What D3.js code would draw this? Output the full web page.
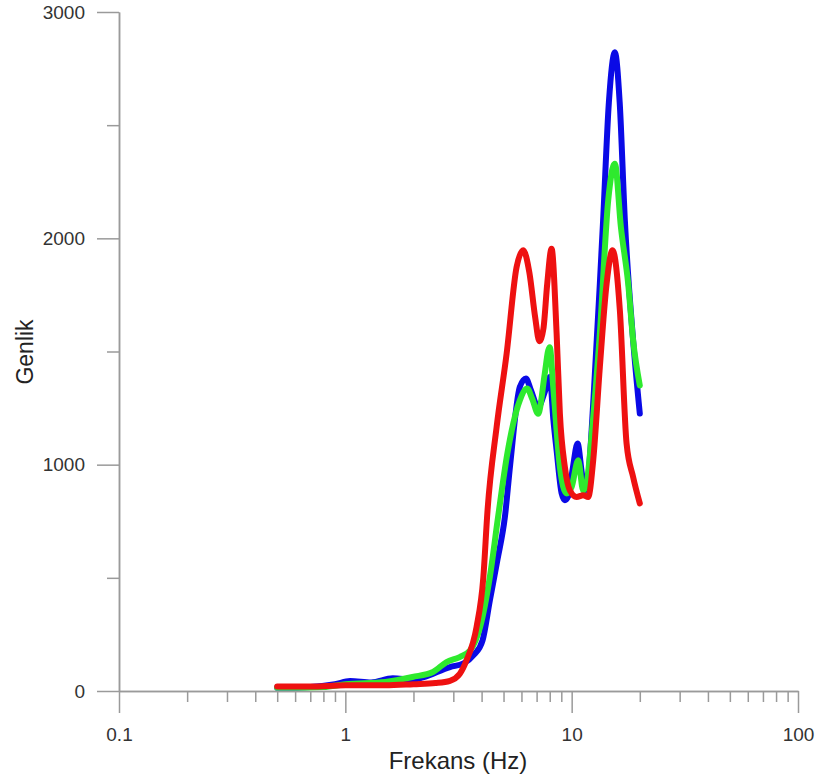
<!DOCTYPE html>
<html>
<head>
<meta charset="utf-8">
<script src="https://cdn.jsdelivr.net/npm/d3@7"></script>
<style>
  html, body { margin: 0; padding: 0; background: #fff; overflow: hidden; }
  svg { display: block; font-family: "Liberation Sans", Arial, sans-serif; }
</style>
</head>
<body>
<svg id="chart" width="815" height="778"></svg>
<script>
// ---- data ----
const xTickValues = [0.1, 1, 10, 100];
const xTickLabels = ["0.1", "1", "10", "100"];
const yTickValues = [0, 1000, 2000, 3000];
const yMinorTicks = [500, 1500, 2500];
const xTitle = "Frekans (Hz)";
const yTitle = "Genlik";

const blueFreq = [0.5, 0.7, 0.9, 1.05, 1.3, 1.62, 2.0, 2.2, 2.9, 3.33, 3.7, 4.04, 4.35, 4.7, 5.07, 5.35, 5.9, 6.28, 6.6, 7.11, 7.6, 8.01, 8.3, 8.58, 9.03, 9.33, 9.65, 10.1, 10.62, 11.1, 11.44, 11.83, 12.5, 13.32, 13.77, 14.6, 15.52, 16.3, 17.18, 18.69, 20];
const blueVal  = [15, 18, 30, 44, 38, 56, 50, 60, 106, 122, 160, 224, 400, 580, 769, 1000, 1343, 1381, 1330, 1254, 1320, 1387, 1200, 1063, 873, 843, 860, 980, 1093, 960, 886, 945, 1300, 1800, 2079, 2600, 2822, 2600, 2079, 1549, 1226];

const greenFreq = [0.5, 0.8, 1.0, 1.5, 1.98, 2.44, 2.8, 3.2, 3.56, 3.94, 4.35, 4.73, 5.2, 5.9, 6.36, 6.7, 7.11, 7.6, 7.88, 8.0, 8.29, 8.87, 9.49, 9.99, 10.69, 11.24, 11.64, 12.3, 13.32, 14.5, 15.52, 16.5, 17.77, 18.69, 20];
const greenVal  = [15, 18, 30, 40, 62, 84, 128, 150, 180, 283, 504, 769, 1050, 1284, 1336, 1290, 1225, 1400, 1505, 1519, 1343, 989, 873, 901, 1019, 886, 917, 1150, 1580, 2167, 2330, 2050, 1800, 1549, 1350];

const redFreq = [0.5, 0.7, 1.0, 1.5, 2.0, 2.5, 2.9, 3.2, 3.43, 3.8, 4.07, 4.25, 4.66, 5.16, 5.71, 6.11, 6.5, 6.9, 7.2, 7.5, 7.8, 8.15, 8.58, 8.87, 9.33, 9.82, 10.51, 11.24, 11.83, 12.45, 13.32, 14.27, 15.16, 16.33, 17.48, 18.69, 20];
const redVal  = [20, 20, 25, 25, 30, 35, 45, 75, 135, 283, 500, 800, 1166, 1491, 1873, 1947, 1850, 1650, 1545, 1600, 1800, 1954, 1580, 1226, 990, 886, 857, 865, 857, 1019, 1431, 1800, 1947, 1681, 1094, 945, 829];

const series = [
  { name: "blue",  freq: blueFreq,  val: blueVal,  color: "#0a0ae6" },
  { name: "green", freq: greenFreq, val: greenVal, color: "#2eea2e" },
  { name: "red",   freq: redFreq,   val: redVal,   color: "#ee1111" }
];

// ---- chart ----
const svg = d3.select("#chart");
const x = d3.scaleLog().domain([0.1, 100]).range([119, 798]);
const y = d3.scaleLinear().domain([0, 3000]).range([691, 12]);
const axisColor = "#9a9a9a";
const labelColor = "#333";

// x minor ticks
const xMinor = [];
for (let d = 0.1; d < 100; d *= 10) {
  for (let k = 2; k <= 9; k++) xMinor.push(+(d * k).toPrecision(3));
}

const gxMinor = svg.append("g").attr("transform", "translate(0,691)")
  .call(d3.axisBottom(x).tickValues(xMinor).tickSize(11).tickSizeOuter(0).tickFormat(""));
const gx = svg.append("g").attr("transform", "translate(0,691)")
  .call(d3.axisBottom(x).tickValues(xTickValues).tickSize(22).tickSizeOuter(0).tickPadding(15)
    .tickFormat((d, i) => xTickLabels[i]));

const gyMinor = svg.append("g").attr("transform", "translate(119,0)")
  .call(d3.axisLeft(y).tickValues(yMinorTicks).tickSize(12).tickSizeOuter(0).tickFormat(""));
const gy = svg.append("g").attr("transform", "translate(119,0)")
  .call(d3.axisLeft(y).tickValues(yTickValues).tickSize(22).tickSizeOuter(0).tickPadding(12)
    .tickFormat(d3.format("d")));

[gxMinor, gx, gyMinor, gy].forEach(g => {
  g.selectAll("path.domain").attr("stroke", axisColor).attr("stroke-width", 1.5);
  g.selectAll(".tick line").attr("stroke", axisColor).attr("stroke-width", 1.5);
  g.selectAll(".tick text").attr("fill", labelColor).style("font-size", "19px")
    .style("font-family", "'Liberation Sans', Arial, sans-serif");
});

// lines
const line = d3.line()
  .x(d => x(d[0]))
  .y(d => y(d[1]))
  .curve(d3.curveMonotoneX);

series.forEach(s => {
  const pts = s.freq.map((f, i) => [f, s.val[i]]);
  svg.append("path")
    .datum(pts)
    .attr("fill", "none")
    .attr("stroke", s.color)
    .attr("stroke-width", 6)
    .attr("stroke-linejoin", "round")
    .attr("stroke-linecap", "round")
    .attr("d", line);
});

// titles
svg.append("text")
  .attr("x", 458).attr("y", 769)
  .attr("text-anchor", "middle")
  .attr("fill", "#222")
  .style("font-size", "24px")
  .text(xTitle);

svg.append("text")
  .attr("transform", "translate(33,352) rotate(-90)")
  .attr("text-anchor", "middle")
  .attr("fill", "#222")
  .style("font-size", "23px")
  .text(yTitle);
</script>
</body>
</html>
